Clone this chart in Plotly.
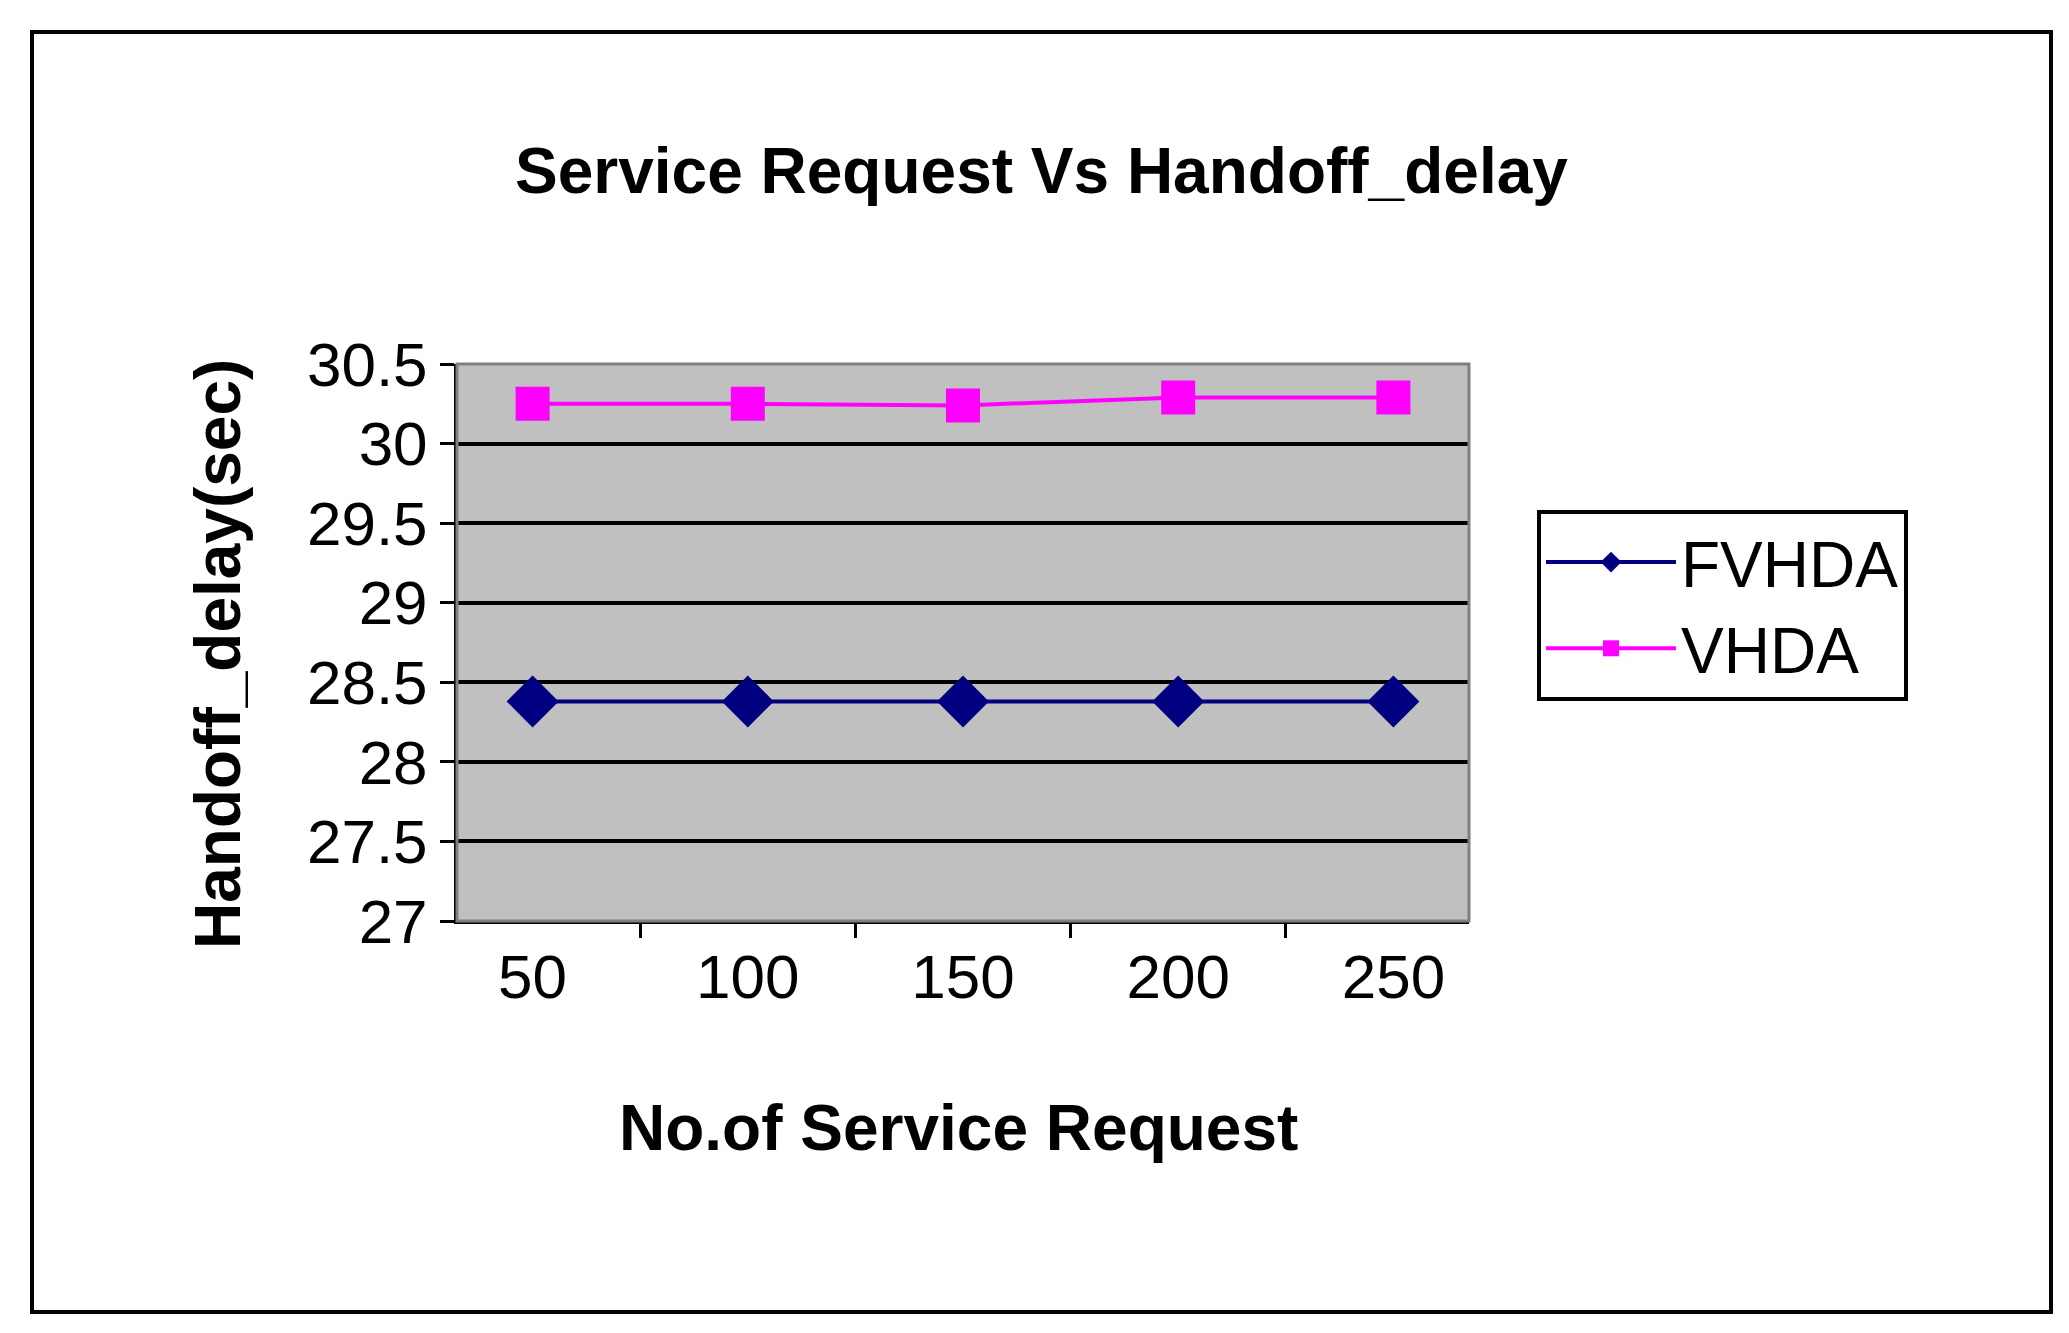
import plotly.graph_objects as go

categories = ["50", "100", "150", "200", "250"]
fvhda = [28.38, 28.38, 28.38, 28.38, 28.38]
vhda = [30.25, 30.25, 30.24, 30.29, 30.29]
y_tickvals = [27, 27.5, 28, 28.5, 29, 29.5, 30, 30.5]
y_ticktext = ["27", "27.5", "28", "28.5", "29", "29.5", "30", "30.5"]

W, H = 2069, 1333
L, R, T, B = 449, 1461, 356, 913
pw, ph = R - L, B - T
def px(x): return (x - L) / pw
def py(y): return (B - y) / ph

F = "Liberation Sans, Arial, sans-serif"
fig = go.Figure()
fig.add_trace(go.Scatter(x=categories, y=fvhda, name="FVHDA", mode="lines+markers",
    line=dict(color="#000080", width=4), marker=dict(symbol="diamond", size=40, color="#000080")))
fig.add_trace(go.Scatter(x=categories, y=vhda, name="VHDA", mode="lines+markers",
    line=dict(color="#FF00FF", width=4), marker=dict(symbol="square", size=34, color="#FF00FF")))

fig.update_layout(
    width=W, height=H, margin=dict(l=L, r=W - R, t=T, b=H - B),
    paper_bgcolor="white", plot_bgcolor="#C0C0C0",
    font=dict(family=F, color="black", size=62),
    xaxis=dict(type="category", tickson="boundaries", ticks="outside", ticklen=14, tickwidth=3,
               tickcolor="black", showgrid=False, showline=True, linecolor="black", linewidth=3,
               tickfont=dict(size=62)),
    yaxis=dict(range=[27, 30.5], tickvals=y_tickvals, ticktext=y_ticktext, ticks="outside",
               ticklen=14, tickwidth=3, tickcolor="black",
               showgrid=True, gridcolor="black", gridwidth=4, showline=True, linecolor="black", linewidth=3,
               tickfont=dict(size=62), zeroline=False),
    legend=dict(x=px(1529), y=py(502), xanchor="left", yanchor="top", bordercolor="black",
                borderwidth=4, bgcolor="white", font=dict(size=64), itemwidth=130,
                tracegroupgap=40),
    showlegend=True,
    shapes=[
        dict(type="rect", xref="paper", yref="paper", x0=px(24), x1=px(2043), y0=py(1304), y1=py(24),
             line=dict(color="black", width=4), layer="below"),
        dict(type="rect", xref="paper", yref="paper", x0=0, x1=1, y0=0, y1=1,
             line=dict(color="#808080", width=3)),
    ],
    annotations=[
        dict(text="<b>Service Request Vs Handoff_delay</b>", xref="paper", yref="paper",
             x=px(1033), y=py(125), showarrow=False, font=dict(size=64)),
        dict(text="<b>No.of Service Request</b>", xref="paper", yref="paper",
             x=px(950), y=py(1158), showarrow=False, font=dict(size=64)),
        dict(text="<b>Handoff_delay(sec)</b>", xref="paper", yref="paper", textangle=-90,
             x=px(172), y=py(646), showarrow=False, font=dict(size=64)),
    ],
)
fig.write_html("out.html")
